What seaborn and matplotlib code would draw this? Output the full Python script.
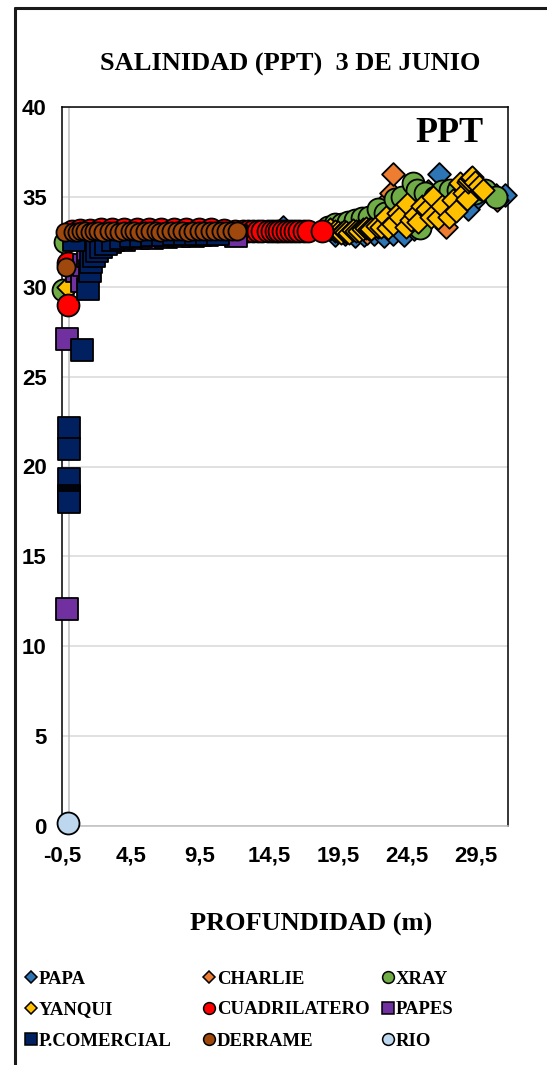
import matplotlib
matplotlib.use("Agg")
import matplotlib.pyplot as plt
from matplotlib.lines import Line2D
import seaborn as sns
import pandas as pd

# ---- data: depth (m) and salinity (ppt) per station ----
papa_depth = [15.5, 19.3, 20.0, 20.7, 21.4, 22.1, 22.8, 23.5, 24.3, 25.0, 25.8,
              26.8, 27.4, 28.1, 28.9, 29.6, 30.3, 31.6]
papa_sal = [33.35, 32.9, 32.95, 32.85, 32.9, 32.95, 32.85, 32.95, 32.9, 33.2, 33.6,
            36.3, 34.6, 34.9, 34.3, 35.0, 35.3, 35.1]

charlie_depth = [21.6, 22.4, 22.8, 23.3, 23.5, 24.0, 25.2, 26.0, 27.3, 28.5, 29.4,
                 30.3, 30.9, 31.0]
charlie_sal = [33.0, 33.3, 34.6, 35.2, 36.25, 34.0, 34.8, 35.3, 33.3, 35.0, 35.6,
               35.3, 35.1, 34.8]

xray_depth = [-0.4, -0.3, 18.8, 19.3, 19.8, 20.2, 20.7, 21.2, 21.7, 22.4, 22.9,
              23.6, 24.1, 24.9, 25.2, 25.4, 25.8, 26.5, 27.0, 27.6, 28.2, 28.9,
              29.4, 30.1, 30.9]
xray_sal = [29.8, 32.5, 33.3, 33.5, 33.5, 33.6, 33.7, 33.8, 33.9, 34.3, 34.1,
            34.9, 35.0, 35.75, 35.4, 33.25, 35.2, 35.0, 35.3, 35.4, 35.4, 35.5,
            35.2, 35.4, 35.0]

yanqui_depth = [-0.1, 18.9, 19.3, 19.5, 19.7, 19.9, 20.1, 20.3, 20.6, 20.8, 21.0,
                21.3, 21.5, 21.7, 21.9, 22.3, 22.6, 23.0, 23.1, 23.5, 23.8, 24.0,
                24.4, 24.5, 24.8, 25.1, 25.3, 25.6, 25.9, 26.2, 26.4, 26.7, 27.0,
                27.5, 27.8, 28.0, 28.3, 28.6, 28.8, 28.9, 29.0, 29.1, 29.2, 29.4,
                29.7, 30.0]
yanqui_sal = [30.0, 33.2, 33.1, 33.05, 33.0, 33.1, 33.05, 33.0, 33.15, 33.1, 33.1,
              33.2, 33.25, 33.2, 33.2, 33.4, 33.3, 33.9, 33.25, 33.5, 34.1, 33.9,
              33.35, 34.6, 33.7, 34.0, 33.6, 34.5, 34.3, 33.9, 35.0, 33.8, 34.5,
              33.9, 34.8, 34.2, 35.75, 35.2, 34.9, 35.85, 35.95, 36.05, 36.1, 35.8,
              35.6, 35.4]

cuadrilatero_depth = [-0.1, -0.1, 0.2, 0.8, 1.5, 2.3, 3.1, 4.0, 4.9, 5.8, 6.7,
                      7.6, 8.5, 9.4, 10.3, 11.2, 12.0, 12.6, 13.0, 13.3, 13.7,
                      14.0, 14.4, 14.7, 15.0, 15.2, 15.5, 15.8, 16.1, 16.4, 16.7,
                      17.0, 17.3, 18.3]
cuadrilatero_sal = [29.0, 31.3, 33.1, 33.15, 33.15, 33.2, 33.2, 33.2, 33.2, 33.2,
                    33.2, 33.2, 33.2, 33.2, 33.2, 33.15, 33.1, 33.1, 33.1, 33.1,
                    33.1, 33.1, 33.1, 33.1, 33.1, 33.1, 33.1, 33.1, 33.1, 33.1,
                    33.1, 33.1, 33.1, 33.1]

papes_depth = [-0.14, -0.14, 0.6, 0.95, 1.1, 1.4, 2.0, 3.0, 4.0, 5.0, 6.0, 7.0,
               8.0, 9.0, 9.5, 10.0, 10.5, 11.0, 11.5, 12.1]
papes_sal = [12.05, 27.1, 30.9, 30.3, 31.2, 31.7, 32.2, 32.5, 32.6, 32.7, 32.7,
             32.75, 32.8, 32.85, 32.9, 32.9, 32.95, 32.95, 32.95, 32.8]

comercial_depth = [0.0, 0.0, 0.0, 0.0, 0.0, 0.0, 0.0, 0.95, 1.4, 1.5, 1.6, 1.8,
                   2.0, 2.3, 2.7, 3.2, 3.8, 4.5, 5.2, 6.0, 6.8, 7.6, 8.4, 9.2,
                   10.0, 10.8, 0.4]
comercial_sal = [22.15, 21.0, 19.3, 18.35, 18.25, 18.15, 18.05, 26.5, 29.9, 30.9,
                 31.4, 31.7, 32.0, 32.2, 32.4, 32.6, 32.7, 32.8, 32.85, 32.9,
                 32.9, 32.95, 32.95, 32.95, 32.95, 32.95, 32.6]

derrame_depth = [-0.3, -0.2, 0.3, 0.6, 0.9, 1.2, 1.5, 1.8, 2.1, 2.5, 2.9, 3.3,
                 3.6, 4.0, 4.4, 4.7, 5.1, 5.5, 5.9, 6.3, 6.6, 7.0, 7.4, 7.8, 8.2,
                 8.6, 9.0, 9.4, 9.8, 10.2, 10.6, 11.0, 11.4, 11.8, 12.2]
derrame_sal = [33.05, 31.1, 33.05, 33.05, 33.1, 33.1, 33.05, 33.1, 33.1, 33.05,
               33.1, 33.1, 33.05, 33.1, 33.1, 33.1, 33.05, 33.1, 33.1, 33.1,
               33.05, 33.1, 33.1, 33.1, 33.1, 33.05, 33.1, 33.1, 33.1, 33.1,
               33.1, 33.1, 33.1, 33.1, 33.1]

rio_depth = [-0.05]
rio_sal = [0.15]

station_names = ["PAPA", "CHARLIE", "XRAY", "YANQUI", "CUADRILATERO", "PAPES",
                 "P.COMERCIAL", "DERRAME", "RIO"]
x_ticks = [-0.5, 4.5, 9.5, 14.5, 19.5, 24.5, 29.5]
x_tick_labels = ["-0,5", "4,5", "9,5", "14,5", "19,5", "24,5", "29,5"]
y_ticks = [0, 5, 10, 15, 20, 25, 30, 35, 40]

# ---- styling per station ----
series = [
    (papa_depth, papa_sal, "D", "#2e75b6", 135),
    (charlie_depth, charlie_sal, "D", "#ed7d31", 135),
    (xray_depth, xray_sal, "o", "#70ad47", 250),
    (yanqui_depth, yanqui_sal, "D", "#ffc000", 130),
    (cuadrilatero_depth, cuadrilatero_sal, "o", "#ff0000", 250),
    (papes_depth, papes_sal, "s", "#7030a0", 240),
    (comercial_depth, comercial_sal, "s", "#002060", 240),
    (derrame_depth, derrame_sal, "o", "#9e480e", 170),
    (rio_depth, rio_sal, "o", "#bdd7ee", 250),
]

sns.set_theme(style="white")
plt.rcParams["font.family"] = ["Liberation Sans", "DejaVu Sans"]
plt.rcParams["text.color"] = "black"
plt.rcParams["xtick.color"] = "black"
plt.rcParams["ytick.color"] = "black"
plt.rcParams["axes.labelcolor"] = "black"

fig = plt.figure(figsize=(5.47, 10.65), dpi=100)
ax = fig.add_axes([62 / 547, 1 - 826 / 1065, 446 / 547, 719 / 1065])

for i, (name, (dx, sy, mk, col, size)) in enumerate(zip(station_names, series)):
    df = pd.DataFrame({"depth": dx, "sal": sy})
    sns.scatterplot(data=df, x="depth", y="sal", ax=ax, marker=mk, s=size,
                    color=col, edgecolor="black", linewidth=1.3,
                    clip_on=False, zorder=5 + i, legend=False)

ax.set_xlim(-0.5, 31.8)
ax.set_ylim(0, 40)
ax.set_xticks(x_ticks)
ax.set_xticklabels(x_tick_labels)
ax.set_yticks(y_ticks)
ax.set_xlabel("")
ax.set_ylabel("")
ax.tick_params(axis="both", length=0, labelsize=16, labelcolor="black")
ax.tick_params(axis="y", pad=11)
ax.tick_params(axis="x", pad=14)
for lab in ax.get_xticklabels() + ax.get_yticklabels():
    lab.set_fontweight("bold")

ax.yaxis.grid(True, color="#d9d9d9", linewidth=1.1)
ax.xaxis.grid(False)
ax.set_axisbelow(True)
ax.axvline(0, color="#bfbfbf", linewidth=1.1, zorder=1)

for side in ["left", "top", "right"]:
    ax.spines[side].set_color("black")
    ax.spines[side].set_linewidth(1.1)
ax.spines["bottom"].set_color("#bfbfbf")
ax.spines["bottom"].set_linewidth(1.1)

serif = ["Liberation Serif", "DejaVu Serif"]
ax.text(0.868, 0.9517, "PPT", transform=ax.transAxes, ha="center",
        va="baseline", fontsize=26, fontweight="bold", family=serif,
        color="black")

fig.text(0.531, 1 - 71 / 1065, "SALINIDAD (PPT)  3 DE JUNIO", ha="center",
         va="baseline", fontsize=19, fontweight="bold", family=serif,
         color="black")
fig.text(311 / 547, 1 - 931 / 1065, "PROFUNDIDAD (m)", ha="center",
         va="baseline", fontsize=19, fontweight="bold", family=serif,
         color="black")

# chart-area border (left and top edges)
fig.add_artist(Line2D([15 / 547, 15 / 547], [0, 1 - 7.5 / 1065],
                      transform=fig.transFigure, color="#1a1a1a", linewidth=2.2))
fig.add_artist(Line2D([15 / 547, 1], [1 - 7.5 / 1065, 1 - 7.5 / 1065],
                      transform=fig.transFigure, color="#1a1a1a", linewidth=2.2))

# legend laid out row by row in three columns
col_x = [31, 209, 388]
row_y = [977, 1008, 1039]
leg_sizes = {"D": 6.5, "o": 8.5, "s": 8}
for i, (name, (dx, sy, mk, col, size)) in enumerate(zip(station_names, series)):
    r, c = divmod(i, 3)
    xm = col_x[c] / 547
    ym = 1 - row_y[r] / 1065
    fig.add_artist(Line2D([xm], [ym], transform=fig.transFigure, marker=mk,
                          markersize=leg_sizes[mk], markerfacecolor=col,
                          markeredgecolor="black", markeredgewidth=1.1,
                          linestyle="none"))
    fig.text((col_x[c] + 8) / 547, ym, name, ha="left", va="center_baseline",
             fontsize=13.5, fontweight="bold", family=serif, color="black")

fig.savefig("out.png", dpi=100, facecolor="white")
